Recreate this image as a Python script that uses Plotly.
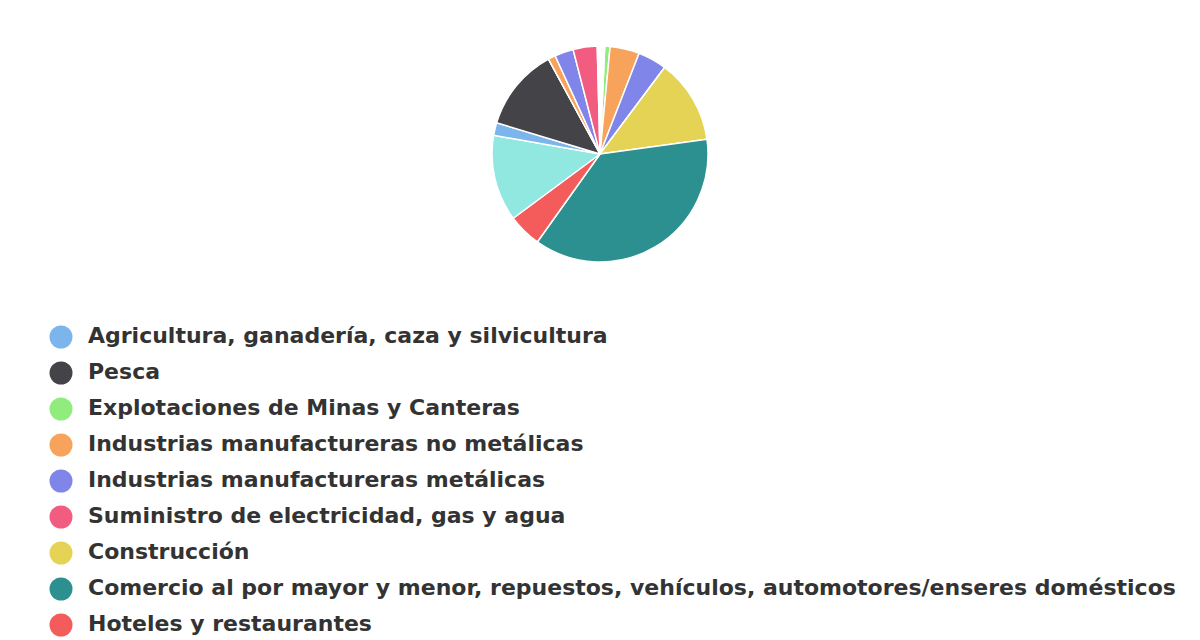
import plotly.graph_objects as go

# sectores (orden de la leyenda / de los datos)
sectores = [
    'Agricultura, ganadería, caza y silvicultura',
    'Pesca',
    'Explotaciones de Minas y Canteras',
    'Industrias manufactureras no metálicas',
    'Industrias manufactureras metálicas',
    'Suministro de electricidad, gas y agua',
    'Construcción',
    'Comercio al por mayor y menor, repuestos, vehículos, automotores/enseres domésticos',
    'Hoteles y restaurantes',
    'Transporte, almacenamiento y comunicaciones',
    'Intermediación financiera',
    'Servicios inmobiliarios, empresariales y de alquiler',
    'Administración pública, defensa y seguridad social',
    'Educación',
    'Servicios sociales y de salud',
    'Servicios comunitarios, sociales y personales',
    'Hogares privados con servicio doméstico',
]

# participación (%)
participacion = [0, 0, 0.8, 4.4, 4.3, 0, 12.6, 37.0, 5.0, 12.9,
                 1.9, 12.4, 0, 1.1, 2.8, 3.6, 1.1]

colores = ['#7cb5ec', '#434348', '#90ed7d', '#f7a35c', '#8085e9',
           '#f15c80', '#e4d354', '#2b908f', '#f45b5b', '#91e8e1',
           '#7cb5ec', '#434348', '#90ed7d', '#f7a35c', '#8085e9',
           '#f15c80', '#ffffff']

W, H = 1200, 640
off = 8            # margen del body de la pagina
fila = 36          # separacion entre items de la leyenda (px)
primera = 337 - off  # centro del primer item (px)

fig = go.Figure()

fig.add_trace(go.Pie(
    labels=sectores,
    values=participacion,
    sort=False,
    direction='clockwise',
    rotation=2.5,
    marker=dict(colors=colores, line=dict(color='#ffffff', width=1.5)),
    textinfo='none',
    showlegend=False,
    domain=dict(x=[(492 - off) / W, (708 - off) / W],
                y=[1 - (262 - off) / H, 1 - (46 - off) / H]),
))

# leyenda dibujada con marcadores circulares
idx = list(range(len(sectores)))
fig.add_trace(go.Scatter(
    x=[61 - off] * len(sectores), y=idx, mode='markers',
    marker=dict(size=23, color=colores, symbol='circle', line=dict(width=0)),
    hoverinfo='skip', showlegend=False,
))
fig.add_trace(go.Scatter(
    x=[88 - off] * len(sectores), y=idx, mode='text',
    text=sectores, textposition='middle right',
    textfont=dict(family='DejaVu Sans', size=22, color='#333333', weight='bold'),
    hoverinfo='skip', showlegend=False,
))

y_top = -primera / fila
y_bot = y_top + H / fila
fig.update_xaxes(visible=False, range=[0, W], fixedrange=True)
fig.update_yaxes(visible=False, range=[y_bot, y_top], fixedrange=True)

fig.update_layout(
    width=W, height=H,
    margin=dict(l=0, r=0, t=0, b=0),
    paper_bgcolor='#ffffff',
    plot_bgcolor='#ffffff',
)

fig.write_html('out.html')
